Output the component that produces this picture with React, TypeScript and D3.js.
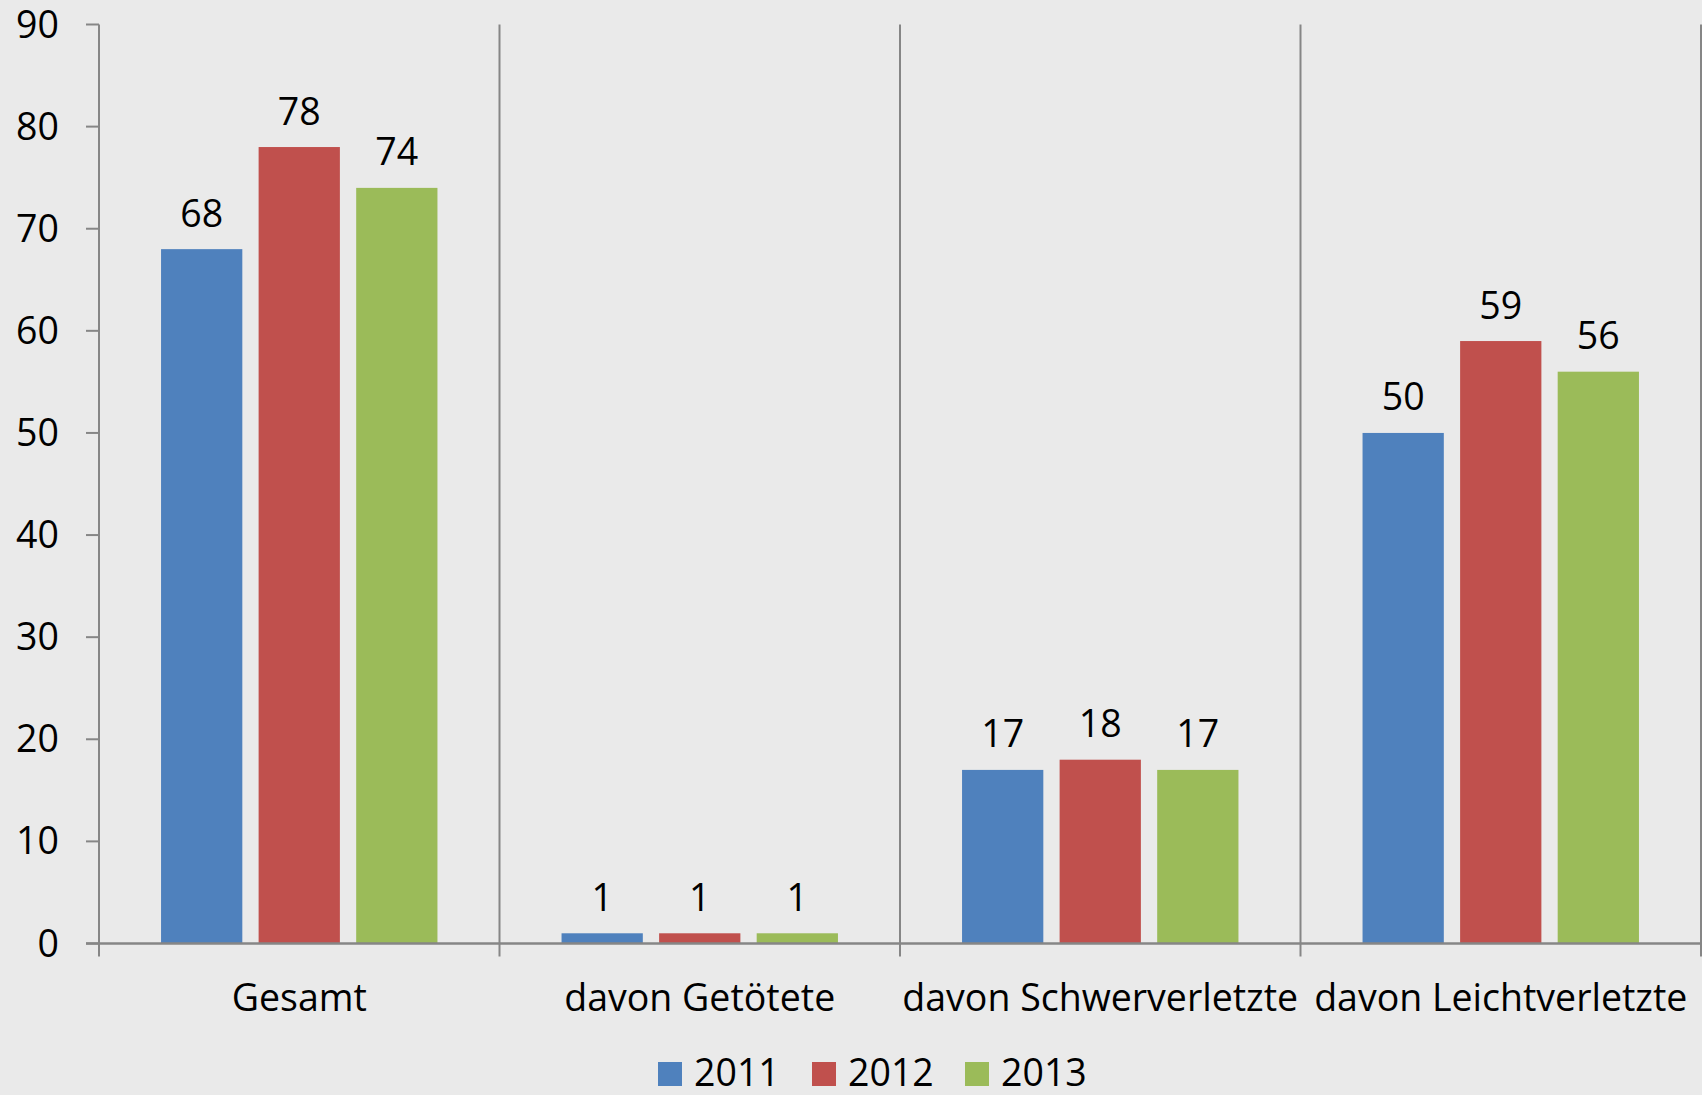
import React, { useEffect, useRef } from "react";
import * as d3 from "d3";

const categories = ["Gesamt", "davon Getötete", "davon Schwerverletzte", "davon Leichtverletzte"];
const years = ["2011", "2012", "2013"];
const values2011 = [68, 1, 17, 50];
const values2012 = [78, 1, 18, 59];
const values2013 = [74, 1, 17, 56];
const yTicks = [0, 10, 20, 30, 40, 50, 60, 70, 80, 90];
const colors = ["#4F81BD", "#C0504D", "#9BBB59"];

const W = 1702;
const H = 1095;
const FONT = "'Open Sans', 'Noto Sans', sans-serif";
const FS = 37.5;

export default function App() {
  const ref = useRef<SVGSVGElement | null>(null);

  useEffect(() => {
    document.body.style.margin = "0";
    const svg = d3.select(ref.current);
    svg.selectAll("*").remove();

    const left = 99, right = 1701, top = 24.5, bottom = 943.5;
    const series = [values2011, values2012, values2013];

    svg.append("rect").attr("width", W).attr("height", H).attr("fill", "#eaeaea");

    const x0 = d3.scaleBand<string>().domain(categories).range([left, right]).padding(0);
    const x1 = d3.scaleBand<string>().domain(years).range([0, x0.bandwidth()])
      .paddingInner(0.167).paddingOuter(0.636);
    const y = d3.scaleLinear().domain([0, 90]).range([bottom, top]);

    const axisColor = "#868686";

    // category separators
    const seps = [...categories.map((c) => x0(c)!), right];
    svg.append("g").selectAll("line").data(seps).join("line")
      .attr("x1", (d) => d).attr("x2", (d) => d)
      .attr("y1", top).attr("y2", bottom + 13)
      .attr("stroke", axisColor).attr("stroke-width", 2);

    // y ticks
    svg.append("g").selectAll("line").data(yTicks).join("line")
      .attr("x1", left - 13).attr("x2", left)
      .attr("y1", (d) => y(d)).attr("y2", (d) => y(d))
      .attr("stroke", axisColor).attr("stroke-width", 2);

    svg.append("g").selectAll("text").data(yTicks).join("text")
      .attr("x", 59).attr("y", (d) => y(d) + 13)
      .attr("text-anchor", "end")
      .attr("font-family", FONT).attr("font-size", FS)
      .attr("fill", "#000")
      .text((d) => String(d));

    // bars
    const g = svg.append("g");
    categories.forEach((c, ci) => {
      years.forEach((yr, si) => {
        const v = series[si][ci];
        const bx = x0(c)! + x1(yr)!;
        g.append("rect")
          .attr("x", bx).attr("y", y(v))
          .attr("width", x1.bandwidth()).attr("height", y(0) - y(v))
          .attr("fill", colors[si]);
        g.append("text")
          .attr("x", bx + x1.bandwidth() / 2).attr("y", y(v) - 22.5)
          .attr("text-anchor", "middle")
          .attr("font-family", FONT).attr("font-size", FS)
          .attr("fill", "#000")
          .text(String(v));
      });
    });

    // x axis line
    svg.append("line")
      .attr("x1", left - 13).attr("x2", right)
      .attr("y1", bottom).attr("y2", bottom)
      .attr("stroke", axisColor).attr("stroke-width", 2.5);

    // category labels
    svg.append("g").selectAll("text").data(categories).join("text")
      .attr("x", (d) => x0(d)! + x0.bandwidth() / 2)
      .attr("y", 1011)
      .attr("text-anchor", "middle")
      .attr("font-family", FONT).attr("font-size", FS)
      .attr("fill", "#000")
      .text((d) => d);

    // legend
    const legendX = [658, 812, 965];
    const lg = svg.append("g");
    years.forEach((yr, i) => {
      lg.append("rect").attr("x", legendX[i]).attr("y", 1062)
        .attr("width", 24).attr("height", 24).attr("fill", colors[i]);
      lg.append("text").attr("x", legendX[i] + 36).attr("y", 1086)
        .attr("font-family", FONT).attr("font-size", FS).attr("fill", "#000")
        .text(yr);
    });
  }, []);

  return (
    <svg ref={ref} width={W} height={H}
      style={{ position: "absolute", left: 0, top: 0, display: "block" }} />
  );
}
